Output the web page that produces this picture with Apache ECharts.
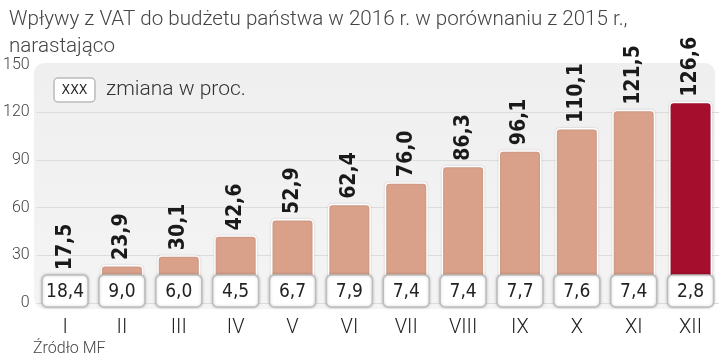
<!DOCTYPE html>
<html><head><meta charset="utf-8">
<script src="https://cdn.jsdelivr.net/npm/echarts@6/dist/echarts.min.js"></script>
<style>html,body{margin:0;padding:0;background:#fff}#c{width:720px;height:360px}</style>
</head><body><div id="c"></div>
<script>
const categories = ['I','II','III','IV','V','VI','VII','VIII','IX','X','XI','XII'];
const values = [17.5, 23.9, 30.1, 42.6, 52.9, 62.4, 76.0, 86.3, 96.1, 110.1, 121.5, 126.6];
const changes = [18.4, 9.0, 6.0, 4.5, 6.7, 7.9, 7.4, 7.4, 7.7, 7.6, 7.4, 2.8];
const yTicks = [0, 30, 60, 90, 120, 150];

const fmt = v => v.toFixed(1).replace('.', ',');
const chart = echarts.init(document.getElementById('c'));
const light = 'Roboto';
const cond = '"DejaVu Sans Condensed", "DejaVu Sans"';

chart.setOption({
  animation: false,
  title: {
    text: 'Wpływy z VAT do budżetu państwa w 2016 r. w porównaniu z 2015 r.,\nnarastająco',
    left: 4, top: 1,
    textStyle: { fontFamily: light, fontWeight: 300, fontSize: 20.6, color: '#444', lineHeight: 27 }
  },
  graphic: [
    { type: 'rect', z: -10, shape: { x: 34, y: 63, width: 681, height: 246, r: 10 },
      style: { fill: new echarts.graphic.LinearGradient(0,0,0,1,[{offset:0,color:'#efefef'},{offset:1,color:'#f4f4f4'}]) } },
    { type: 'rect', z: 10, shape: { x: 54, y: 78, width: 41, height: 24, r: 4 },
      style: { fill: '#fff', stroke: '#bbb', lineWidth: 1.5 } },
    { type: 'text', z: 11, style: { x: 74.5, y: 90, text: 'XXX', align: 'center', verticalAlign: 'middle',
      font: '14px ' + cond, fill: '#222' } },
    { type: 'text', z: 11, style: { x: 106, y: 90, text: 'zmiana w proc.', verticalAlign: 'middle',
      font: '300 21px Roboto', fill: '#333' } },
    { type: 'text', z: 11, style: { x: 33, y: 349, text: 'Źródło MF', verticalAlign: 'middle',
      font: '300 16px Roboto', fill: '#444' } }
  ],
  grid: { left: 35, right: 1, top: 64.5, bottom: 57 },
  xAxis: {
    type: 'category', data: categories,
    axisLine: { show: false }, axisTick: { show: false },
    axisLabel: { margin: 15, fontFamily: light, fontWeight: 300, fontSize: 20, color: '#222' }
  },
  yAxis: {
    type: 'value', min: yTicks[0], max: yTicks[yTicks.length-1], interval: 30,
    axisLine: { show: false }, axisTick: { show: false },
    axisLabel: { margin: 7, fontFamily: light, fontWeight: 300, fontSize: 16, color: '#444' },
    splitLine: { lineStyle: { color: ['#dcdcdc','#dcdcdc','#dcdcdc','#dcdcdc','#dcdcdc','rgba(0,0,0,0)'], width: 1 } }
  },
  series: [
    {
      type: 'bar', barWidth: 43,
      data: values.map((v, i) => ({
        value: v,
        itemStyle: { color: i === values.length - 1 ? '#a50e2d' : '#d9a08a' }
      })),
      itemStyle: { borderColor: '#fff', borderWidth: 1.5, borderRadius: [4,4,0,0],
        shadowColor: 'rgba(0,0,0,0.15)', shadowBlur: 2 },
      label: {
        show: true, position: 'top', rotate: 90, align: 'left', verticalAlign: 'middle', distance: 5,
        formatter: p => fmt(p.value),
        fontFamily: cond, fontWeight: 'bold', fontSize: 21, color: '#1a1a1a'
      }
    },
    {
      type: 'custom', z: 5,
      data: changes.map((c, i) => [i, c]),
      encode: { x: 0, y: 1 },
      renderItem: (params, api) => {
        const p = api.coord([api.value(0), 0]);
        const w = 46, h = 32, cy = p[1] - 12;
        return {
          type: 'group',
          children: [
            { type: 'rect', shape: { x: p[0] - w/2, y: cy - h/2, width: w, height: h, r: 5 },
              style: { fill: '#fff', stroke: '#bdbdbd', lineWidth: 1.5, shadowColor: 'rgba(0,0,0,0.2)', shadowBlur: 3 } },
            { type: 'text', style: { x: p[0], y: cy + 1, text: fmt(api.value(1)), align: 'center', verticalAlign: 'middle',
              font: '19px ' + cond, fill: '#222' } }
          ]
        };
      }
    }
  ]
});
</script></body></html>
